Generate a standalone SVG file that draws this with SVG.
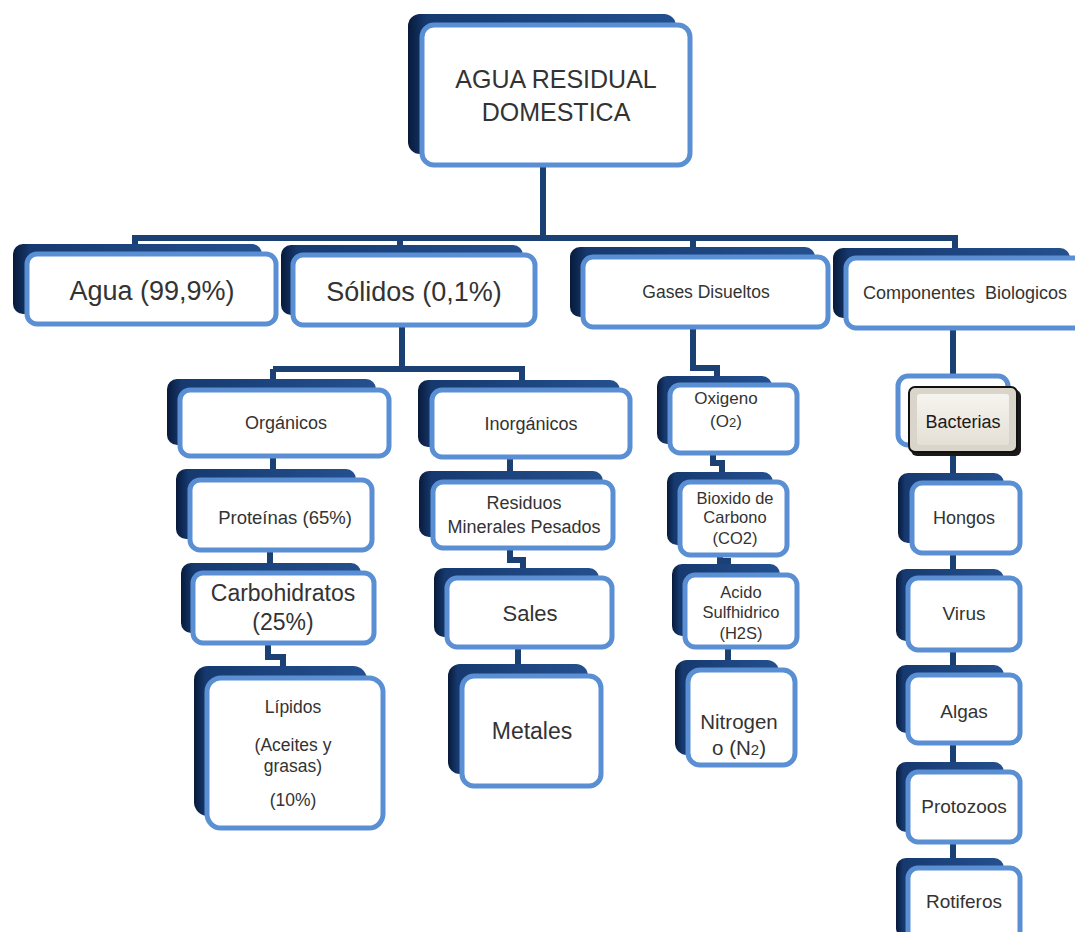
<svg xmlns="http://www.w3.org/2000/svg" width="1075" height="932" viewBox="0 0 1075 932">
<defs>
<linearGradient id="bk" x1="0" y1="0" x2="1" y2="0">
<stop offset="0" stop-color="#081a3a"/>
<stop offset="0.07" stop-color="#163a70"/>
<stop offset="1" stop-color="#24508f"/>
</linearGradient>
<linearGradient id="bev" x1="0" y1="0" x2="0" y2="1">
<stop offset="0" stop-color="#f6f4ef"/>
<stop offset="1" stop-color="#e4e0d6"/>
</linearGradient>
<style>
.bk{fill:url(#bk);}
.fr{fill:#fff;stroke:#5a8fd3;stroke-width:5;}
.t{font-family:"Liberation Sans",Arial,sans-serif;fill:#333;text-anchor:middle;}
.cn{fill:none;stroke:#1b4074;stroke-width:6;stroke-linejoin:miter;}
</style>
</defs>
<rect width="1075" height="932" fill="#fff"/>
<g id="connectors">
<path class="cn" d="M543,165 V238 M135,250 V238 H955 V252 M400,238 V248 M693,238 V250"/>
<path class="cn" d="M402,325 V369 H522 V381 M273,369 H402 M273,369 V381"/>
<path class="cn" d="M693,327 V368 H717 V378"/>
<path class="cn" d="M953,328 V378"/>
<path class="cn" d="M273,455 V470 M270,550 V563 M268,642 V657 H283 V668"/>
<path class="cn" d="M510,457 V472 M510,548 V560 H523 V569 M518,647 V666"/>
<path class="cn" d="M713,453 V463 H722 V473 M720,555 V561 H728 V566 M728,647 V661"/>
<path class="cn" d="M953,453 V473 M953,553 V569 M953,650 V666 M953,743 V763 M953,842 V859"/>
</g>
<g id="root"><rect class="bk" x="408" y="14" width="268" height="140" rx="12"/><rect class="fr" x="422" y="25" width="268" height="140" rx="12"/>
<text class="t" x="556" y="88" font-size="25">AGUA RESIDUAL</text><text class="t" x="556" y="121" font-size="25">DOMESTICA</text></g>
<g id="agua"><rect class="bk" x="13" y="244" width="249" height="70" rx="10"/><rect class="fr" x="27" y="254" width="249" height="70" rx="10"/>
<text class="t" x="152" y="300" font-size="27">Agua (99,9%)</text></g>
<g id="solidos"><rect class="bk" x="281" y="245" width="242" height="70" rx="10"/><rect class="fr" x="293" y="255" width="242" height="70" rx="10"/>
<text class="t" x="414" y="301" font-size="27">Sólidos (0,1%)</text></g>
<g id="gases"><rect class="bk" x="570" y="247" width="245" height="70" rx="10"/><rect class="fr" x="583" y="257" width="245" height="70" rx="10"/>
<text class="t" x="706" y="298" font-size="17.5">Gases Disueltos</text></g>
<g id="componentes"><rect class="bk" x="833" y="248" width="237" height="70" rx="10"/><rect class="fr" x="846" y="258" width="240" height="70" rx="10"/>
<text class="t" x="965" y="299" font-size="18" xml:space="preserve">Componentes  Biologicos</text></g>
<g id="organicos"><rect class="bk" x="167" y="379" width="209" height="66" rx="10"/><rect class="fr" x="180" y="390" width="209" height="66" rx="10"/>
<text class="t" x="286" y="429" font-size="18">Orgánicos</text></g>
<g id="inorganicos"><rect class="bk" x="418" y="380" width="202" height="67" rx="10"/><rect class="fr" x="432" y="390" width="198" height="67" rx="10"/>
<text class="t" x="531" y="430" font-size="18">Inorgánicos</text></g>
<g id="proteinas"><rect class="bk" x="176" y="469" width="180" height="70" rx="10"/><rect class="fr" x="190" y="480" width="182" height="70" rx="10"/>
<text class="t" x="285" y="524" font-size="18.5">Proteínas (65%)</text></g>
<g id="carbohidratos"><rect class="bk" x="181" y="563" width="180" height="70" rx="10"/><rect class="fr" x="193" y="573" width="181" height="70" rx="10"/>
<text class="t" x="283" y="601" font-size="23">Carbohidratos</text><text class="t" x="283" y="630" font-size="23">(25%)</text></g>
<g id="lipidos"><rect class="bk" x="194" y="666" width="173" height="150" rx="14"/><rect class="fr" x="207" y="678" width="176" height="150" rx="14"/>
<text class="t" x="293" y="713" font-size="17.5">Lípidos</text><text class="t" x="293" y="751" font-size="17.5">(Aceites y</text><text class="t" x="293" y="772" font-size="17.5">grasas)</text><text class="t" x="293" y="806" font-size="17.5">(10%)</text></g>
<g id="residuos"><rect class="bk" x="419" y="471" width="184" height="66" rx="10"/><rect class="fr" x="433" y="482" width="180" height="66" rx="10"/>
<text class="t" x="524" y="509" font-size="18">Residuos</text><text class="t" x="524" y="533" font-size="18">Minerales Pesados</text></g>
<g id="sales"><rect class="bk" x="434" y="568" width="165" height="69" rx="10"/><rect class="fr" x="447" y="578" width="165" height="69" rx="10"/>
<text class="t" x="530" y="621" font-size="22">Sales</text></g>
<g id="metales"><rect class="bk" x="448" y="664" width="140" height="110" rx="12"/><rect class="fr" x="462" y="676" width="139" height="110" rx="12"/>
<text class="t" x="532" y="739" font-size="23">Metales</text></g>
<g id="oxigeno"><rect class="bk" x="657" y="376" width="115" height="68" rx="10"/><rect class="fr" x="670" y="385" width="127" height="68" rx="10"/>
<text class="t" x="726" y="404" font-size="17">Oxigeno</text><text class="t" x="726" y="427" font-size="17">(O<tspan font-size="13">2</tspan>)</text></g>
<g id="bioxido"><rect class="bk" x="667" y="472" width="106" height="73" rx="10"/><rect class="fr" x="680" y="482" width="107" height="73" rx="10"/>
<text class="t" x="735" y="504" font-size="16.5">Bioxido de</text><text class="t" x="735" y="523" font-size="16.5">Carbono</text><text class="t" x="735" y="544" font-size="16.5">(CO2)</text></g>
<g id="acido"><rect class="bk" x="672" y="564" width="108" height="72" rx="10"/><rect class="fr" x="685" y="575" width="112" height="72" rx="10"/>
<text class="t" x="741" y="598" font-size="16.5">Acido</text><text class="t" x="741" y="618" font-size="16.5">Sulfhidrico</text><text class="t" x="741" y="639" font-size="16.5">(H2S)</text></g>
<g id="nitrogeno"><rect class="bk" x="675" y="660" width="104" height="95" rx="12"/><rect class="fr" x="688" y="670" width="107" height="95" rx="12"/>
<text class="t" x="739" y="729" font-size="20.5">Nitrogen</text><text class="t" x="739" y="755" font-size="20.5">o (N<tspan font-size="15">2</tspan>)</text></g>
<g id="bacterias"><rect x="898" y="376" width="110" height="69" rx="10" fill="#fff" stroke="#5a8fd3" stroke-width="5"/>
<rect x="911" y="390" width="110" height="66" rx="6" fill="#1a1a1a"/>
<rect x="909" y="387" width="108" height="65" rx="6" fill="#d9d5cb" stroke="#111" stroke-width="2"/>
<rect x="917" y="394" width="92" height="51" rx="3" fill="url(#bev)"/>
<text class="t" x="963" y="428" font-size="18" style="fill:#1a1a1a">Bacterias</text></g>
<g id="hongos"><rect class="bk" x="898" y="473" width="106" height="70" rx="10"/><rect class="fr" x="912" y="483" width="108" height="70" rx="10"/>
<text class="t" x="964" y="524" font-size="18">Hongos</text></g>
<g id="virus"><rect class="bk" x="896" y="569" width="108" height="72" rx="10"/><rect class="fr" x="908" y="578" width="112" height="72" rx="10"/>
<text class="t" x="964" y="620" font-size="19">Virus</text></g>
<g id="algas"><rect class="bk" x="896" y="665" width="108" height="68" rx="10"/><rect class="fr" x="908" y="675" width="112" height="68" rx="10"/>
<text class="t" x="964" y="718" font-size="19">Algas</text></g>
<g id="protozoos"><rect class="bk" x="896" y="762" width="108" height="70" rx="10"/><rect class="fr" x="908" y="772" width="112" height="70" rx="10"/>
<text class="t" x="964" y="813" font-size="19">Protozoos</text></g>
<g id="rotiferos"><rect class="bk" x="896" y="858" width="108" height="80" rx="10"/><rect class="fr" x="908" y="868" width="112" height="80" rx="10"/>
<text class="t" x="964" y="908" font-size="19">Rotiferos</text></g>
</svg>
